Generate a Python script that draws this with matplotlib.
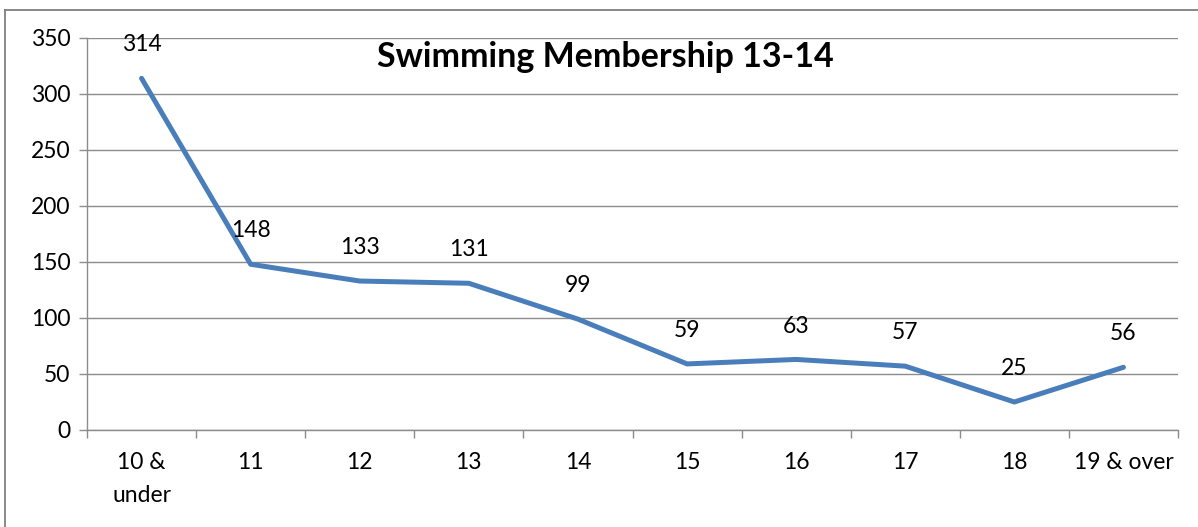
import matplotlib.pyplot as plt
from matplotlib.lines import Line2D
import numpy as np

categories = ['10 &\nunder', '11', '12', '13', '14', '15', '16', '17', '18', '19 & over']
members = [314, 148, 133, 131, 99, 59, 63, 57, 25, 56]

plt.rcParams['font.family'] = ['Lato', 'DejaVu Sans']

fig = plt.figure(figsize=(11.98, 5.27), dpi=100)
ax = fig.add_axes([87 / 1198, 97 / 527, 1091 / 1198, 392 / 527])

x = np.arange(len(categories))
ax.plot(x, members, color='#4A7EBB', linewidth=3.6, solid_capstyle='round', zorder=3)
for xi, v in zip(x, members):
    ax.annotate(str(v), (xi, v), xytext=(0, 24), textcoords='offset points',
                ha='center', va='center', fontsize=16.5, color='black')

ax.set_xlim(-0.5, len(categories) - 0.5)
ax.set_ylim(0, 350)
ax.set_yticks(range(0, 351, 50))
ax.grid(axis='y', color='#8c8c8c', linewidth=1)
ax.set_axisbelow(True)

ax.set_xticks(x)
ax.set_xticklabels(categories, fontsize=16.5, linespacing=1.7)
ax.set_xticks(np.arange(-0.5, len(categories), 1), minor=True)
ax.tick_params(axis='x', which='major', length=0, pad=16)
ax.tick_params(axis='x', which='minor', length=6, color='#8c8c8c', width=1)
ax.tick_params(axis='y', length=6, color='#8c8c8c', width=1, labelsize=16.5, pad=6)

for side in ['top', 'right']:
    ax.spines[side].set_visible(False)
for side in ['left', 'bottom']:
    ax.spines[side].set_color('#8c8c8c')
    ax.spines[side].set_linewidth(1)

ax.set_title('Swimming Membership 13-14', fontsize=24.5, fontweight='bold',
             x=0.475, y=0.93, va='center')

# outer chart border: only left and top edges fall inside the image
bx, by = 4.5 / 1198, 1 - 9.5 / 527
fig.add_artist(Line2D([bx, bx], [0, by], transform=fig.transFigure,
                      color='#7f7f7f', linewidth=1.3))
fig.add_artist(Line2D([bx, 1], [by, by], transform=fig.transFigure,
                      color='#7f7f7f', linewidth=1.3))

fig.savefig('out.png', dpi=100)
